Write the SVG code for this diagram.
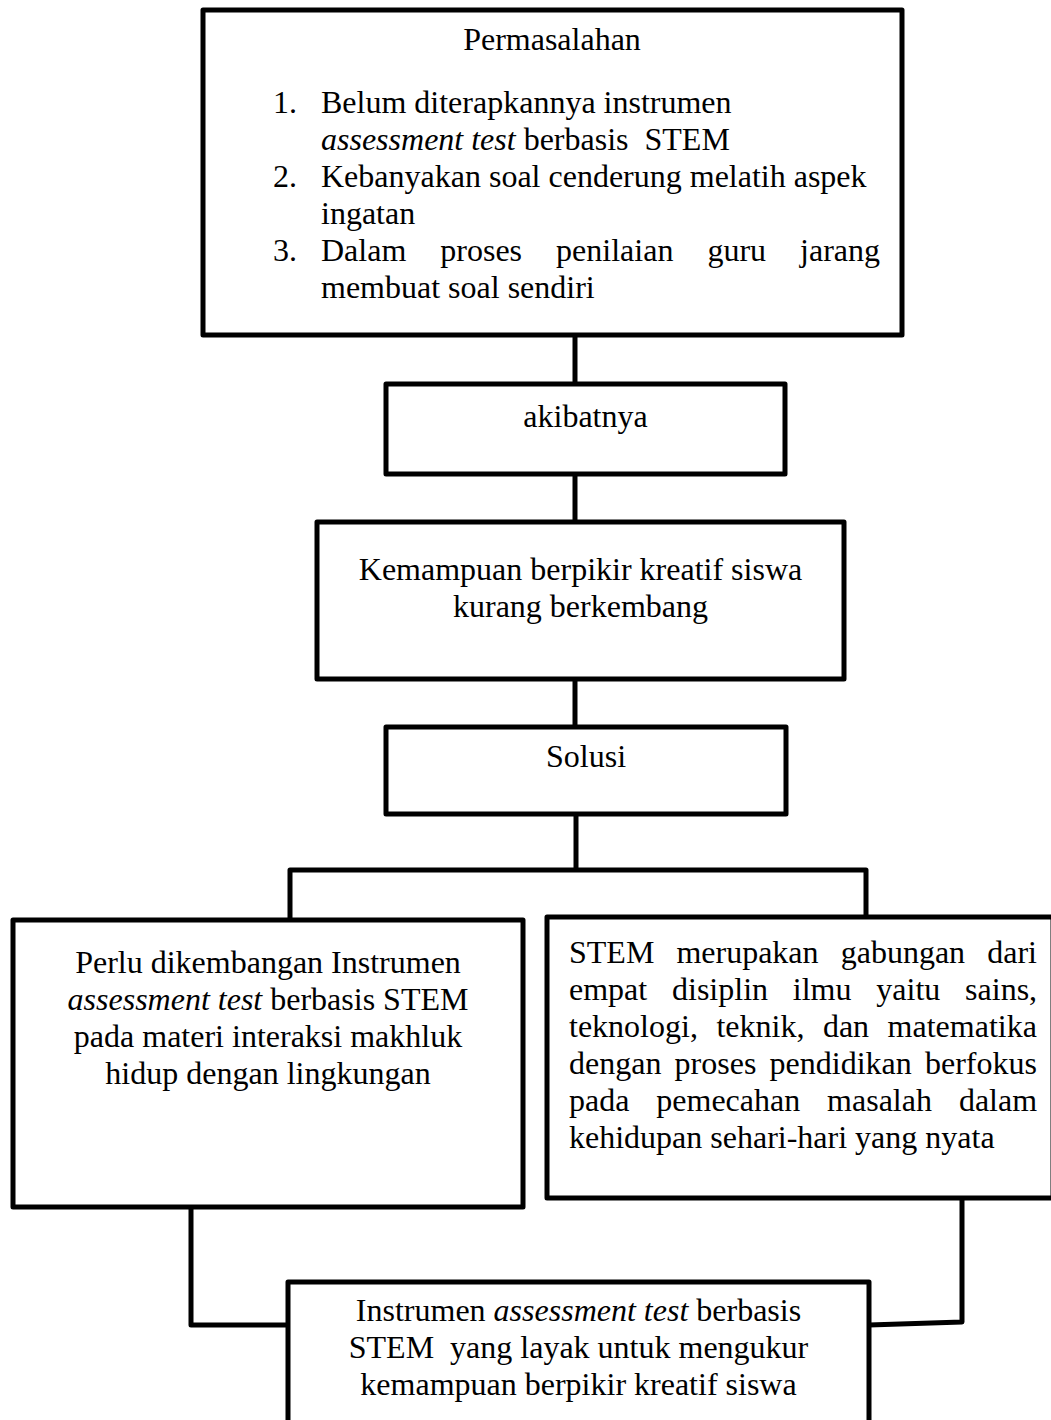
<svg xmlns="http://www.w3.org/2000/svg" width="1051" height="1420" viewBox="0 0 1051 1420">
<style>
.box{fill:#fff;stroke:#000;stroke-width:5;stroke-linejoin:round}
.con{fill:none;stroke:#000;stroke-width:5;stroke-linejoin:round}
text{font-family:"Liberation Serif","Times New Roman",serif;font-size:32px;fill:#000}
.c{text-anchor:middle}
.i{font-style:italic}
</style>
<rect width="1051" height="1420" fill="#fff"/>
<g id="connectors">
<path class="con" d="M575 335V384"/>
<path class="con" d="M575 474V522"/>
<path class="con" d="M575 679V727"/>
<path class="con" d="M576 814V870"/>
<path class="con" d="M290 918V870H866V917"/>
<path class="con" d="M191 1207V1325H288"/>
<path class="con" d="M962 1198V1322L869 1325"/>
</g>
<g id="permasalahan">
<rect class="box" x="203" y="10" width="699" height="325"/>
<text class="c" x="552" y="50">Permasalahan</text>
<text x="273" y="113">1.</text>
<text x="321" y="113">Belum diterapkannya instrumen</text>
<text x="321" y="150" xml:space="preserve"><tspan class="i">assessment test</tspan> berbasis  STEM</text>
<text x="273" y="187">2.</text>
<text x="321" y="187">Kebanyakan soal cenderung melatih aspek</text>
<text x="321" y="224">ingatan</text>
<text x="273" y="261">3.</text>
<text y="261"><tspan x="321">Dalam</tspan><tspan x="440.3">proses</tspan><tspan x="556.1">penilaian</tspan><tspan x="707.4">guru</tspan><tspan x="800.1">jarang</tspan></text>
<text x="321" y="298">membuat soal sendiri</text>
</g>
<g id="akibatnya">
<rect class="box" x="386" y="384" width="399" height="90"/>
<text class="c" x="585.5" y="427">akibatnya</text>
</g>
<g id="kemampuan">
<rect class="box" x="317" y="522" width="527" height="157"/>
<text class="c" x="580.5" y="580">Kemampuan berpikir kreatif siswa</text>
<text class="c" x="580.5" y="617">kurang berkembang</text>
</g>
<g id="solusi">
<rect class="box" x="386" y="727" width="400" height="87"/>
<text class="c" x="586" y="767">Solusi</text>
</g>
<g id="perlu">
<rect class="box" x="13" y="920" width="510" height="287"/>
<text class="c" x="268" y="973">Perlu dikembangan Instrumen</text>
<text class="c" x="268" y="1010"><tspan class="i">assessment test</tspan> berbasis STEM</text>
<text class="c" x="268" y="1047">pada materi interaksi makhluk</text>
<text class="c" x="268" y="1084">hidup dengan lingkungan</text>
</g>
<g id="stem">
<rect class="box" x="547" y="917" width="506" height="281"/>
<text y="963"><tspan x="569">STEM</tspan><tspan x="676.4">merupakan</tspan><tspan x="840.7">gabungan</tspan><tspan x="987.2">dari</tspan></text>
<text y="1000"><tspan x="569">empat</tspan><tspan x="672">disiplin</tspan><tspan x="792.8">ilmu</tspan><tspan x="876.3">yaitu</tspan><tspan x="965.1">sains,</tspan></text>
<text y="1037"><tspan x="569">teknologi,</tspan><tspan x="716.4">teknik,</tspan><tspan x="822.9">dan</tspan><tspan x="887.6">matematika</tspan></text>
<text y="1074"><tspan x="569">dengan</tspan><tspan x="674.6">proses</tspan><tspan x="769.6">pendidikan</tspan><tspan x="925">berfokus</tspan></text>
<text y="1111"><tspan x="569">pada</tspan><tspan x="656.3">pemecahan</tspan><tspan x="827.1">masalah</tspan><tspan x="958.9">dalam</tspan></text>
<text x="569" y="1148">kehidupan sehari-hari yang nyata</text>
</g>
<g id="hasil">
<rect class="box" x="288" y="1282" width="581" height="150"/>
<text class="c" x="578.5" y="1321">Instrumen <tspan class="i">assessment test</tspan> berbasis</text>
<text class="c" x="578.5" y="1358" xml:space="preserve">STEM  yang layak untuk mengukur</text>
<text class="c" x="578.5" y="1395">kemampuan berpikir kreatif siswa</text>
</g>
</svg>
